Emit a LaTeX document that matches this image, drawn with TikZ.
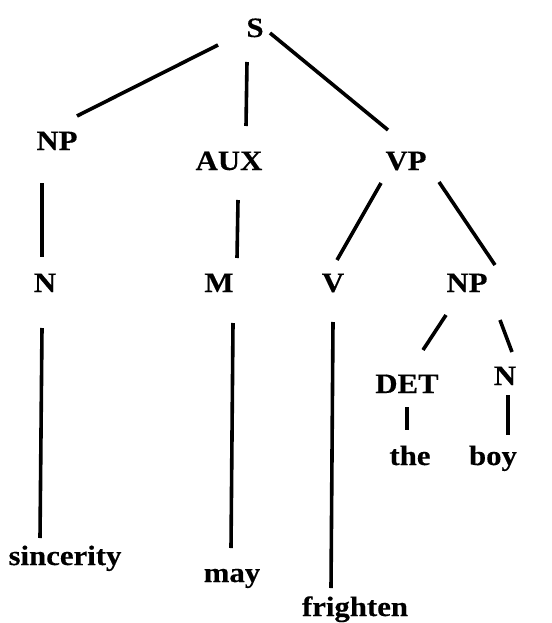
\documentclass[tikz,border=0pt]{standalone}
\usepackage{fontspec}
\setmainfont{Liberation Serif}[FakeStretch=1.1]
\newfontfamily\tbold{Liberation Serif Bold}[FakeStretch=1.1, FakeBold=0.3]
\usetikzlibrary{calc}
\begin{document}
\begin{tikzpicture}[x=1pt,y=-1pt,
  lab/.style={anchor=base,inner sep=0pt,font=\fontsize{28}{30}\selectfont\tbold},
  edge/.style={line width=3.6pt,black}]
\useasboundingbox[fill=white] (0,0) rectangle (551,623);
\node[lab] (S) at (255,37) {S};
\node[lab] (NP) at (57,150) {NP};
\node[lab] (AUX) at (229,170) {AUX};
\node[lab] (VP) at (406,170) {VP};
\node[lab] (N) at (45,292) {N};
\node[lab] (M) at (219,292) {M};
\node[lab] (V) at (333,292) {V};
\node[lab] (NPb) at (467,292) {NP};
\node[lab] (DET) at (407,393) {DET};
\node[lab] (Nb) at (505,385) {N};
\node[lab] (the) at (410,465) {the};
\node[lab] (boy) at (493,465) {boy};
\node[lab] (sinc) at (65,565) {sincerity};
\node[lab] (may) at (232,582) {may};
\node[lab] (fri) at (355,616) {frighten};
\draw[edge] ($(S.base)+(-37,8)$) -- ($(NP.base)+(20,-34)$);
\draw[edge] ($(S.base)+(-8,25)$) -- ($(AUX.base)+(17,-44)$);
\draw[edge] ($(S.base)+(15,-4)$) -- ($(VP.base)+(-18,-40)$);
\draw[edge] ($(NP.base)+(-15,33)$) -- ($(N.base)+(-3,-35)$);
\draw[edge] ($(AUX.base)+(9,30)$) -- ($(M.base)+(18,-34)$);
\draw[edge] ($(VP.base)+(-25,13)$) -- ($(V.base)+(4,-32)$);
\draw[edge] ($(VP.base)+(33,12)$) -- ($(NPb.base)+(28,-27)$);
\draw[edge] ($(N.base)+(-3,36)$) -- ($(sinc.base)+(-25,-27)$);
\draw[edge] ($(M.base)+(14,31)$) -- ($(may.base)+(-1,-34)$);
\draw[edge] ($(V.base)+(0,30)$) -- ($(fri.base)+(-24,-28)$);
\draw[edge] ($(NPb.base)+(-21,23)$) -- ($(DET.base)+(16,-43)$);
\draw[edge] ($(NPb.base)+(33,28)$) -- ($(Nb.base)+(7,-33)$);
\draw[edge] ($(DET.base)+(0,14)$) -- ($(the.base)+(-3,-35)$);
\draw[edge] ($(Nb.base)+(3,10)$) -- ($(boy.base)+(15,-30)$);
\end{tikzpicture}
\end{document}
